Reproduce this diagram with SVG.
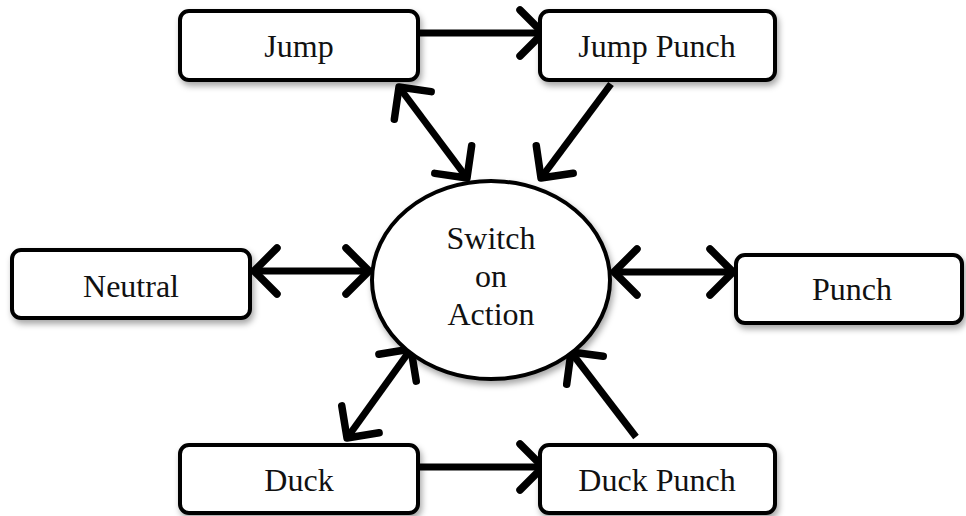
<svg xmlns="http://www.w3.org/2000/svg" width="966" height="516" viewBox="0 0 966 516">
<style>
.box{fill:#fff;stroke:#000;stroke-width:4}
.lbl{font-family:"Liberation Serif","DejaVu Serif",serif;font-size:32px;fill:#111;text-anchor:middle}
.c{stroke:#000;stroke-width:7;fill:none}
</style>
<defs>
<filter id="sh" x="-10%" y="-10%" width="125%" height="140%">
<feDropShadow dx="2" dy="4" stdDeviation="3" flood-color="#000" flood-opacity="0.35"/>
</filter>
<marker id="ah" viewBox="-30 -30 60 60" markerWidth="60" markerHeight="60" refX="0" refY="0" orient="auto-start-reverse" markerUnits="userSpaceOnUse">
<path d="M-23,-23 L0,0 L-23,23" fill="none" stroke="#000" stroke-width="7.5" stroke-linecap="round" stroke-linejoin="round"/>
</marker>
</defs>
<rect width="966" height="516" fill="#fff"/>
<g id="connectors">
<line class="c" x1="418" y1="33" x2="543" y2="33" marker-end="url(#ah)"/>
<line class="c" x1="399" y1="87" x2="467" y2="178" marker-start="url(#ah)" marker-end="url(#ah)"/>
<line class="c" x1="611" y1="84" x2="541" y2="178" marker-end="url(#ah)"/>
<line class="c" x1="254" y1="271" x2="369" y2="271" marker-start="url(#ah)" marker-end="url(#ah)"/>
<line class="c" x1="614" y1="272" x2="733" y2="272" marker-start="url(#ah)" marker-end="url(#ah)"/>
<line class="c" x1="411" y1="349" x2="347" y2="438" marker-start="url(#ah)" marker-end="url(#ah)"/>
<line class="c" x1="636" y1="437" x2="571" y2="352" marker-end="url(#ah)"/>
<line class="c" x1="418" y1="467" x2="543" y2="467" marker-end="url(#ah)"/>
</g>
<g id="jump"><rect class="box" x="180" y="11" width="238" height="69" rx="9" filter="url(#sh)"/><text class="lbl" x="299" y="57">Jump</text></g>
<g id="jump-punch"><rect class="box" x="540" y="11" width="235" height="69" rx="9" filter="url(#sh)"/><text class="lbl" x="657" y="57">Jump Punch</text></g>
<g id="neutral"><rect class="box" x="12" y="250" width="238" height="68" rx="9" filter="url(#sh)"/><text class="lbl" x="131" y="297">Neutral</text></g>
<g id="punch"><rect class="box" x="736" y="255" width="226" height="68" rx="9" filter="url(#sh)"/><text class="lbl" x="852" y="300">Punch</text></g>
<g id="switch"><ellipse cx="491" cy="280" rx="119" ry="99" fill="#fff" stroke="#000" stroke-width="4" filter="url(#sh)"/>
<text class="lbl" x="491" y="249">Switch</text><text class="lbl" x="491" y="287">on</text><text class="lbl" x="491" y="325">Action</text></g>
<g id="duck"><rect class="box" x="180" y="445" width="238" height="68" rx="9" filter="url(#sh)"/><text class="lbl" x="299" y="491">Duck</text></g>
<g id="duck-punch"><rect class="box" x="540" y="445" width="235" height="68" rx="9" filter="url(#sh)"/><text class="lbl" x="657" y="491">Duck Punch</text></g>
</svg>
